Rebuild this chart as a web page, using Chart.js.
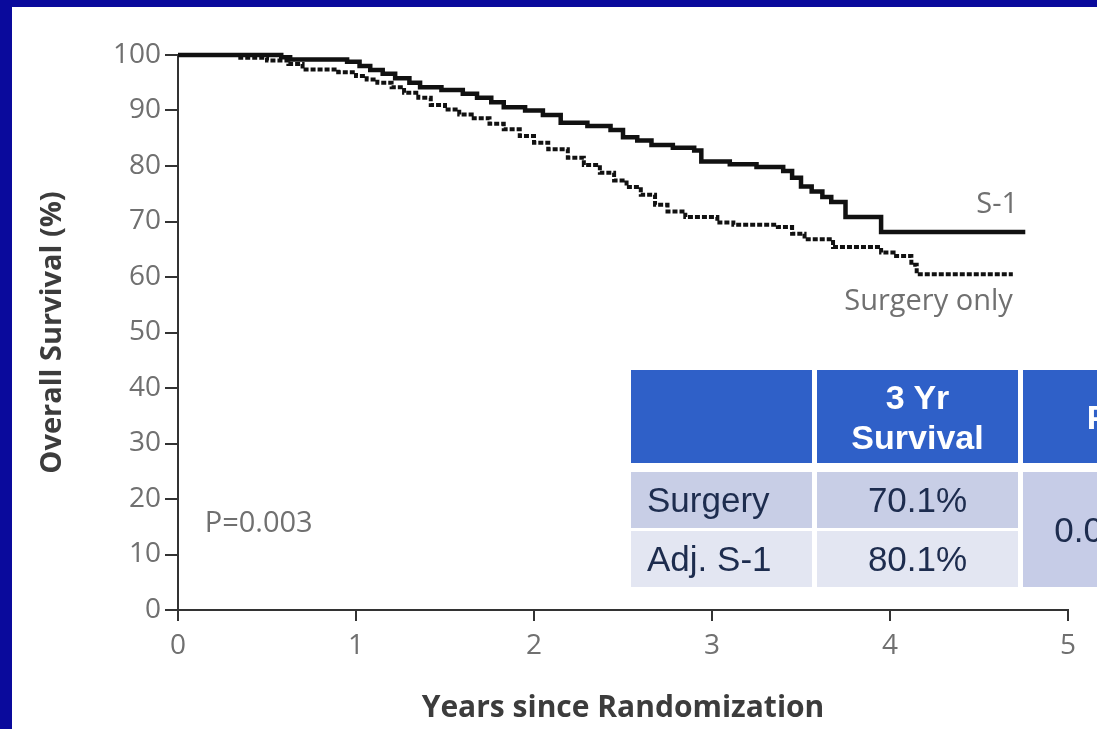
<!DOCTYPE html>
<html>
<head>
<meta charset="utf-8">
<script src="https://cdn.jsdelivr.net/npm/chart.js@4.4.1/dist/chart.umd.min.js"></script>
<style>
  html, body { margin: 0; padding: 0; background: #fff; overflow: hidden; }
  body { width: 1097px; height: 729px; position: relative; }
  #topbar { position: absolute; left: 0; top: 0; width: 1200px; height: 7px; background: #0a0a9c; }
  #leftbar { position: absolute; left: 0; top: 0; width: 12px; height: 800px; background: #0a0a9c; }
  #wrap { position: absolute; left: 0; top: 0; width: 1097px; height: 729px; }
  #tbl {
    position: absolute; left: 631px; top: 370px;
    display: grid;
    grid-template-columns: 181px 201px 150px;
    grid-template-rows: 93px 9px 56px 3px 56px;
    column-gap: 5px;
    font-family: "Liberation Sans", Arial, sans-serif;
  }
  #tbl div { display: flex; align-items: center; }
  .hd { background: #2f60c8; color: #fff; font-weight: bold; font-size: 34px; line-height: 40px; justify-content: center; text-align: center; }
  .r1 { background: #c8cee6; }
  .r2 { background: #e3e6f2; }
  .pv { background: #c6cce7; }
  .body { color: #1d2c4e; font-size: 35px; }
  .lbl { padding-left: 16px; }
  .mid { justify-content: center; }
</style>
</head>
<body>
<div id="topbar"></div>
<div id="leftbar"></div>
<div id="wrap"><canvas id="myChart"></canvas></div>
<div id="tbl"></div>
<script>
// Kaplan-Meier curves (years, % alive)
const s1Years = [0, 0.58, 0.63, 0.95, 1.02, 1.08, 1.15, 1.22, 1.3, 1.36, 1.48, 1.6, 1.68, 1.76, 1.83, 1.95, 2.05, 2.15, 2.3, 2.43, 2.5, 2.58, 2.66, 2.78, 2.9, 2.94, 3.1, 3.25, 3.4, 3.45, 3.5, 3.56, 3.62, 3.67, 3.75, 3.95, 4.76];
const s1Surv = [100, 99.6, 99.2, 98.8, 98.0, 97.3, 96.6, 95.8, 95.0, 94.2, 93.7, 93.0, 92.3, 91.5, 90.6, 90.0, 89.2, 87.8, 87.2, 86.5, 85.2, 84.6, 83.8, 83.3, 82.8, 80.8, 80.3, 79.8, 79.1, 77.9, 76.3, 75.4, 74.4, 73.5, 70.8, 68.1, 68.1];

const surgYears = [0, 0.35, 0.5, 0.62, 0.7, 0.9, 1.0, 1.06, 1.12, 1.2, 1.27, 1.35, 1.42, 1.5, 1.58, 1.65, 1.75, 1.83, 1.92, 2.0, 2.08, 2.19, 2.28, 2.37, 2.45, 2.52, 2.6, 2.68, 2.75, 2.85, 3.03, 3.12, 3.37, 3.45, 3.52, 3.68, 3.95, 4.02, 4.12, 4.15, 4.69];
const surgSurv = [100, 99.5, 99.0, 98.4, 97.4, 96.9, 96.2, 95.6, 95.0, 94.2, 93.2, 92.3, 91.0, 90.2, 89.3, 88.6, 87.6, 86.6, 85.4, 84.2, 83.0, 81.5, 80.2, 78.8, 77.4, 76.2, 74.8, 73.0, 71.8, 70.8, 69.8, 69.4, 69.0, 67.8, 66.8, 65.4, 64.4, 63.8, 62.2, 60.5, 60.5];

const xTicks = [0, 1, 2, 3, 4, 5];
const yTicks = [0, 10, 20, 30, 40, 50, 60, 70, 80, 90, 100];

// table in the slide
const tableHead = ['', '3 Yr<br>Survival', 'P'];
const tableGroups = ['Surgery', 'Adj. S-1'];
const threeYr = ['70.1%', '80.1%'];
const pValue = '0.003';

function toPoints(xs, ys) {
    return xs.map((x, i) => ({ x: x, y: ys[i] }));
}

// text labels drawn next to the curves
const curveNotes = {
    id: 'curveNotes',
    afterDatasetsDraw(chart) {
        const ctx = chart.ctx;
        const x = chart.scales.x, y = chart.scales.y;
        ctx.save();
        ctx.fillStyle = '#707070';
        ctx.font = '29px "Open Sans"';
        ctx.textBaseline = 'middle';
        ctx.textAlign = 'right';
        ctx.fillText('S-1', x.getPixelForValue(4.72), y.getPixelForValue(73.0));
        ctx.fillText('Surgery only', x.getPixelForValue(4.69), y.getPixelForValue(55.6));
        ctx.textAlign = 'left';
        ctx.fillText('P=0.003', x.getPixelForValue(0.15), y.getPixelForValue(15.5));
        ctx.restore();
    }
};

function renderChart() {
    const ctx = document.getElementById('myChart').getContext('2d');
    new Chart(ctx, {
        type: 'line',
        data: {
            datasets: [{
                label: 'S-1',
                data: toPoints(s1Years, s1Surv),
                borderColor: '#111',
                borderWidth: 4.5,
                stepped: true,
                pointRadius: 0,
                clip: 6
            },
            {
                label: 'Surgery only',
                data: toPoints(surgYears, surgSurv),
                borderColor: '#111',
                borderWidth: 4,
                borderDash: [5, 2],
                stepped: true,
                pointRadius: 0,
                clip: 6
            }]
        },
        options: {
            responsive: true,
            maintainAspectRatio: false,
            animation: false,
            layout: { padding: { left: 0, right: 29, top: 55, bottom: 0 } },
            plugins: { legend: { display: false }, tooltip: { enabled: false } },
            scales: {
                x: {
                    type: 'linear',
                    min: 0, max: 5,
                    afterBuildTicks: (s) => { s.ticks = xTicks.map(v => ({ value: v })); },
                    afterFit: (s) => { s.height = 119; },
                    ticks: { color: '#707070', font: { family: 'Open Sans', size: 28 }, padding: 8 },
                    grid: { drawOnChartArea: false, drawTicks: true, tickLength: 11, color: '#333', lineWidth: 2 },
                    border: { display: true, color: '#333', width: 2 },
                    title: {
                        display: true, text: 'Years since Randomization', color: '#3c3c3c',
                        font: { family: 'Open Sans', size: 30, weight: 'bold' },
                        padding: { top: 0, bottom: 3 }
                    }
                },
                y: {
                    min: 0, max: 100,
                    afterBuildTicks: (s) => { s.ticks = yTicks.map(v => ({ value: v })); },
                    afterFit: (s) => { s.width = 178; },
                    ticks: { color: '#707070', font: { family: 'Open Sans', size: 28 }, padding: 4 },
                    grid: { drawOnChartArea: false, drawTicks: true, tickLength: 13, color: '#333', lineWidth: 2 },
                    border: { display: true, color: '#333', width: 2 },
                    title: {
                        display: true, text: 'Overall Survival (%)', color: '#3c3c3c',
                        font: { family: 'Open Sans', size: 29, weight: 'bold' },
                        padding: { top: 35, bottom: 0 }
                    }
                }
            }
        },
        plugins: [curveNotes]
    });
}

function renderTable() {
    const tbl = document.getElementById('tbl');
    const cell = (cls, html, row, col) => {
        const d = document.createElement('div');
        d.className = cls;
        d.innerHTML = html;
        d.style.gridRow = row;
        d.style.gridColumn = col;
        tbl.appendChild(d);
    };
    tableHead.forEach((h, i) => cell('hd', h, '1', String(i + 1)));
    tableGroups.forEach((g, i) => {
        const r = i === 0 ? '3' : '5';
        const c = i === 0 ? 'r1' : 'r2';
        cell('body lbl ' + c, g, r, '1');
        cell('body mid ' + c, threeYr[i], r, '2');
    });
    cell('body mid pv', pValue, '3 / 6', '3');
}

renderTable();
renderChart();
</script>
</body>
</html>
